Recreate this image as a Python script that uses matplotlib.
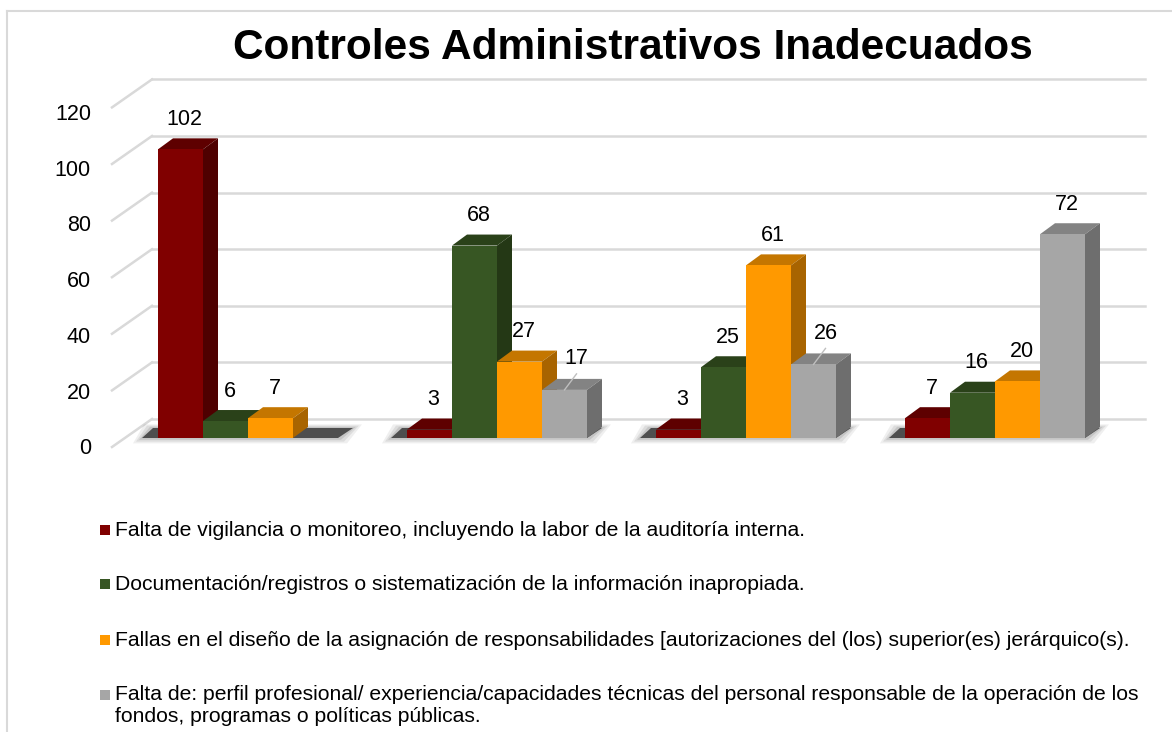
import matplotlib
matplotlib.use("Agg")
import matplotlib.pyplot as plt
from matplotlib.patches import Polygon, Rectangle
import numpy as np

plt.rcParams['font.family'] = ['Liberation Sans', 'DejaVu Sans']

# data
series_names = [
    "Falta de vigilancia o monitoreo, incluyendo la labor de la auditoría interna.",
    "Documentación/registros o sistematización de la información inapropiada.",
    "Fallas en el diseño de la asignación de responsabilidades [autorizaciones del (los) superior(es) jerárquico(s).",
    "Falta de: perfil profesional/ experiencia/capacidades técnicas del personal responsable de la operación de los\nfondos, programas o políticas públicas.",
]
falta_vigilancia = [102, 3, 3, 7]
documentacion = [6, 68, 25, 16]
fallas_diseno = [7, 27, 61, 20]
falta_perfil = [0, 17, 26, 72]
yticks = [0, 20, 40, 60, 80, 100, 120]
title = "Controles Administrativos Inadecuados"

series = [falta_vigilancia, documentacion, fallas_diseno, falta_perfil]
front_col = ['#800000', '#375623', '#FF9900', '#A6A6A6']
top_col = ['#5E0000', '#2A4119', '#C47600', '#838383']
side_col = ['#4E0000', '#243815', '#A86400', '#6E6E6E']
leader = [(3, 1), (3, 2)]  # labels drawn with a small leader line

W, H = 1172, 732
fig = plt.figure(figsize=(W / 100, H / 100), dpi=100)

# pixel scale of the chart
PX = 249.0   # pixels per group
PV = 2.83    # pixels per unit
X0, Y0 = 248, 438
DX = 1 / PX
DV = 1 / PV

ax = fig.add_axes([0, 0, 1, 1])
ax.set_xlim(-X0 / PX, (W - X0) / PX)
ax.set_ylim((Y0 - H) / PV, Y0 / PV)
ax.axis('off')

# back grid + diagonal ticks
gx_front = (112 - X0) * DX
gx_back = (152 - X0) * DX
gx_end = (1145 - X0) * DX
for v in yticks:
    ax.plot([gx_back, gx_end], [v + 19 * DV, v + 19 * DV], color='#D9D9D9', lw=1.8, zorder=1)
    ax.plot([gx_front, gx_back], [v - 9 * DV, v + 19 * DV], color='#D9D9D9', lw=1.8, zorder=1)
    ax.text((91 - X0) * DX, v * 0.985 - 11 * DV, str(v), ha='right', va='center',
            fontsize=15.5, color='#000000')

bw = 45 * DX
ddx = 15 * DX
ddv = 11 * DV
groups = np.arange(len(falta_vigilancia))

# floor shadows
for g in groups:
    l = g - 2 * bw
    r = g + 2 * bw
    for e, a in [(9, 0.07), (6, 0.09), (3, 0.12), (0, 0.75)]:
        pts = [(l - (16 + e) * DX, -e * 0.6 * DV), (r + e * DX, -e * 0.6 * DV),
               (r + (15 + e) * DX, (10 + e * 0.4) * DV), (l - (5 + e) * DX, (10 + e * 0.4) * DV)]
        ax.add_patch(Polygon(pts, closed=True, facecolor='#262626', edgecolor='none',
                             alpha=a, zorder=2))

for k, vals in enumerate(series):
    xs = groups + (k - 1.5) * bw
    bars = ax.bar(xs, vals, width=bw, color=front_col[k], edgecolor='none')
    for g, (b, v) in enumerate(zip(bars, vals)):
        z = 3 + 2 * (g * 4 + k)
        b.set_zorder(z + 1)
        if v <= 0:
            continue
        l = xs[g] - bw / 2
        r = xs[g] + bw / 2
        ax.add_patch(Polygon([(l, v), (r, v), (r + ddx, v + ddv), (l + ddx, v + ddv)],
                             closed=True, facecolor=top_col[k], edgecolor='none', zorder=z))
        ax.add_patch(Polygon([(r, 0), (r, v), (r + ddx, v + ddv), (r + ddx, ddv)],
                             closed=True, facecolor=side_col[k], edgecolor='none', zorder=z))
        if (k, g) in leader:
            ax.plot([xs[g], xs[g] + 12 * DX], [v, v + 16 * DV], color='#BFBFBF', lw=1, zorder=200)
            ax.text(xs[g] + 12 * DX, v + 31 * DV, str(v), ha='center', va='center',
                    fontsize=15.5, zorder=200)
        else:
            ax.text(xs[g] + 4 * DX, v + 30 * DV, str(v), ha='center', va='center',
                    fontsize=15.5, zorder=200)

# overlay in pixel coords for title, legend and frame
ov = fig.add_axes([0, 0, 1, 1])
ov.set_xlim(0, W)
ov.set_ylim(H, 0)
ov.axis('off')
ov.patch.set_alpha(0)

ov.plot([7, W], [11, 11], color='#D9D9D9', lw=1.5)
ov.plot([7, 7], [11, H], color='#D9D9D9', lw=1.5)

ov.text(633, 48, title, ha='center', va='center', fontsize=30.5, fontweight='bold')

leg_y = [530, 584, 640, 695]
for k, name in enumerate(series_names):
    y = leg_y[k]
    ov.add_patch(Rectangle((100, y - 5), 10, 10, facecolor=front_col[k], edgecolor='none'))
    for j, line in enumerate(name.split('\n')):
        ov.text(115, y + j * 22, line, ha='left', va='center', fontsize=15.2)

fig.savefig('out.png', dpi=100)
